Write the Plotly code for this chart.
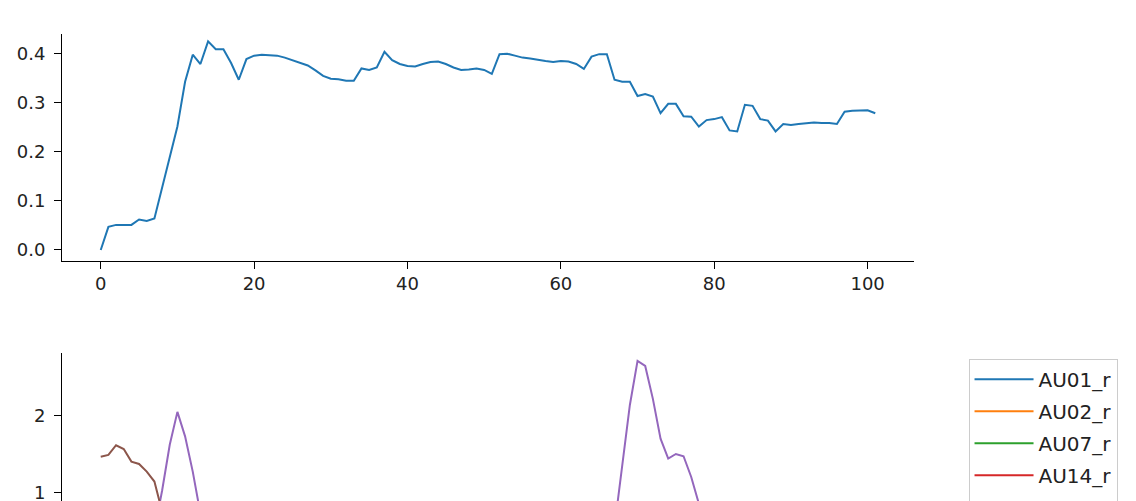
import plotly.graph_objects as go

# frame index shared by both panels
frames = list(range(102))

# top panel series
top_series = [
    0.000, 0.047, 0.051, 0.051, 0.051, 0.062, 0.059, 0.064, 0.128, 0.193,
    0.251, 0.342, 0.397, 0.378, 0.424, 0.408, 0.408, 0.380, 0.346, 0.388,
    0.395, 0.397, 0.396, 0.395, 0.391, 0.386, 0.381, 0.375, 0.365, 0.354,
    0.348, 0.347, 0.344, 0.344, 0.369, 0.366, 0.371, 0.403, 0.386, 0.378,
    0.374, 0.373, 0.378, 0.382, 0.383, 0.378, 0.371, 0.366, 0.367, 0.369,
    0.366, 0.358, 0.398, 0.399, 0.395, 0.391, 0.389, 0.386, 0.384, 0.382,
    0.384, 0.383, 0.378, 0.368, 0.393, 0.398, 0.398, 0.346, 0.342, 0.342,
    0.313, 0.317, 0.312, 0.278, 0.297, 0.297, 0.272, 0.271, 0.251, 0.264,
    0.266, 0.270, 0.243, 0.241, 0.295, 0.293, 0.266, 0.263, 0.241, 0.256,
    0.254, 0.256, 0.258, 0.259, 0.258, 0.258, 0.256, 0.281, 0.283, 0.283,
    0.284, 0.278,
]

# bottom panel: only the parts above ~0.9 are visible in the picture
au25_frames_a = [7, 8, 9, 10, 11, 12, 13]
au25_vals_a = [0.50, 1.02, 1.62, 2.05, 1.73, 1.27, 0.72]
au25_frames_b = [67, 68, 69, 70, 71, 72, 73, 74, 75, 76, 77, 78]
au25_vals_b = [0.55, 1.33, 2.14, 2.715, 2.65, 2.22, 1.70, 1.44, 1.50, 1.47, 1.20, 0.85]

au26_frames = [0, 1, 2, 3, 4, 5, 6, 7, 8]
au26_vals = [1.465, 1.487, 1.614, 1.565, 1.40, 1.37, 1.27, 1.14, 0.75]

# series that stay below the visible window (no readable values)
au01_r = []
au02_r = []
au07_r = []
au14_r = []

colors = ['#1f77b4', '#ff7f0e', '#2ca02c', '#d62728', '#9467bd', '#8c564b']
tick_font = dict(family='DejaVu Sans', size=18, color='#222222')

fig = go.Figure()

fig.add_trace(go.Scatter(
    x=frames, y=top_series, mode='lines',
    line=dict(color=colors[0], width=2),
    xaxis='x', yaxis='y', showlegend=False
))

for name, vals, col in [('AU01_r', au01_r, colors[0]), ('AU02_r', au02_r, colors[1]),
                        ('AU07_r', au07_r, colors[2]), ('AU14_r', au14_r, colors[3])]:
    fig.add_trace(go.Scatter(
        x=[None] if not vals else frames, y=[None] if not vals else vals,
        mode='lines', name=name, legendgroup=name,
        line=dict(color=col, width=2),
        xaxis='x2', yaxis='y2'
    ))

fig.add_trace(go.Scatter(
    x=au25_frames_a + [None] + au25_frames_b,
    y=au25_vals_a + [None] + au25_vals_b,
    mode='lines', name='AU25_r', legendgroup='AU25_r',
    line=dict(color=colors[4], width=2),
    xaxis='x2', yaxis='y2'
))

fig.add_trace(go.Scatter(
    x=au26_frames, y=au26_vals,
    mode='lines', name='AU26_r', legendgroup='AU26_r',
    line=dict(color=colors[5], width=2),
    xaxis='x2', yaxis='y2'
))

axis_common = dict(
    showgrid=False, zeroline=False,
    showline=True, linecolor='black', linewidth=1,
    ticks='outside', tickcolor='black', tickwidth=1,
    tickfont=tick_font,
)

# the page body adds an 8px offset, so positions are set 8px up/left
fig.update_layout(
    width=1136, height=501,
    margin=dict(l=54, r=230, t=0, b=0, autoexpand=False),
    paper_bgcolor='white', plot_bgcolor='white',
    showlegend=True,
    xaxis=dict(domain=[0, 1], anchor='y', range=[-5.05, 106.05],
               tickvals=[0, 20, 40, 60, 80, 100], ticklen=7, **axis_common),
    yaxis=dict(domain=[0.4956, 0.9481], anchor='x', range=[-0.0218, 0.439],
               tickvals=[0, 0.1, 0.2, 0.3, 0.4],
               ticktext=['0.0', '0.1', '0.2', '0.3', '0.4'], ticklen=7,
               ticklabelstandoff=5, **axis_common),
    xaxis2=dict(domain=[0, 1], anchor='y2', range=[-5.05, 106.05],
                showgrid=False, zeroline=False, showline=False,
                showticklabels=False, ticks=''),
    yaxis2=dict(domain=[0.016, 0.3108], anchor='x2', range=[0.886, 2.815],
                tickvals=[1, 2], ticklen=7, ticklabelstandoff=5, **axis_common),
    legend=dict(
        x=1.064, y=0.300, xanchor='left', yanchor='top',
        bgcolor='white', bordercolor='#cccccc', borderwidth=1,
        font=dict(family='DejaVu Sans', size=20, color='#222222'),
        itemwidth=59, maxheight=600, tracegroupgap=3,
    ),
)

fig.write_html("out.html")
